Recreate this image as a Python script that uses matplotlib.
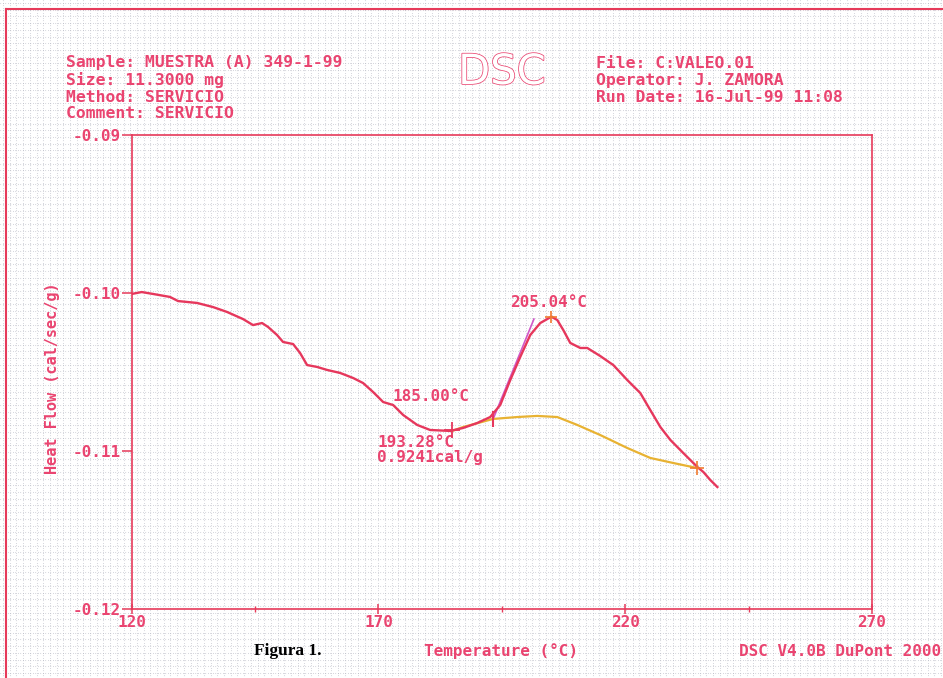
import numpy as np
import matplotlib
matplotlib.use("Agg")
import matplotlib.pyplot as plt
from matplotlib import patheffects as pe
from matplotlib.collections import LineCollection

plt.rcParams['axes.unicode_minus'] = False

# DSC trace: temperature (°C) and heat flow (cal/sec/g)
temperature = [120.00, 122.03, 124.32, 127.76, 129.39, 133.24, 136.48, 139.32,
               142.56, 144.59, 146.41, 147.63, 149.45, 150.67, 152.70, 154.12,
               155.54, 157.57, 159.59, 162.23, 164.87, 166.89, 168.92, 170.95,
               172.97, 175.00, 177.84, 180.47, 184.53, 187.17, 190.00, 192.64,
               194.67, 196.70, 198.72, 200.75, 202.78, 205.04, 206.23, 207.44,
               208.86, 210.89, 212.31, 214.94, 217.58, 220.42, 223.05, 225.08,
               227.11, 229.14, 231.77, 234.61, 235.83, 237.25, 238.67]
heat_flow = [-0.10006, -0.09994, -0.10006, -0.10025, -0.10051, -0.10063, -0.10089, -0.10120,
             -0.10165, -0.10203, -0.10190, -0.10215, -0.10266, -0.10310, -0.10323, -0.10380,
             -0.10456, -0.10468, -0.10487, -0.10506, -0.10538, -0.10570, -0.10627, -0.10690,
             -0.10709, -0.10772, -0.10835, -0.10867, -0.10873, -0.10854, -0.10823, -0.10785,
             -0.10709, -0.10551, -0.10405, -0.10266, -0.10190, -0.10150, -0.10171, -0.10234,
             -0.10316, -0.10348, -0.10348, -0.10399, -0.10456, -0.10551, -0.10633, -0.10741,
             -0.10848, -0.10930, -0.11013, -0.11101, -0.11133, -0.11184, -0.11228]

# Integration baseline under the peak
base_T = [184.93, 187.17, 193.25, 198.11, 202.17, 206.23, 210.28, 214.94,
          220.42, 225.08, 229.74, 234.61]
base_hf = [-0.10873, -0.10848, -0.10797, -0.10785, -0.10778, -0.10785, -0.10835, -0.10899,
           -0.10981, -0.11044, -0.11076, -0.11108]

# Tangent at the leading edge of the peak
tangent_T = [193.4, 201.5]
tangent_hf = [-0.10785, -0.10165]

# Analysis results
onset_T = 185.00
limit_T = 193.28
peak_T = 205.04
end_T = 234.61
enthalpy = 0.9241

x_major = [120, 170, 220, 270]
x_minor = [145, 195, 245]
y_major = [-0.09, -0.10, -0.11, -0.12]

header_left = ["Sample: MUESTRA (A) 349-1-99", "Size: 11.3000 mg",
               "Method: SERVICIO", "Comment: SERVICIO"]
header_right = ["File: C:VALEO.01", "Operator: J. ZAMORA",
                "Run Date: 16-Jul-99 11:08"]

RED = '#e6375c'
TXT = '#ea4470'
AXC = '#e63a5a'
YEL = '#e8b232'
ORG = '#f07a30'
MAG = '#d058c8'
MONO = dict(family='DejaVu Sans Mono', weight='bold', color=TXT)

W, H = 943, 678
fig = plt.figure(figsize=(W / 100, H / 100), dpi=100)
fig.patch.set_facecolor('white')

# dotted graph-paper background
bg = fig.add_axes([0, 0, 1, 1])
bg.set_xlim(0, W)
bg.set_ylim(H, 0)
bg.axis('off')
step = 6.7
xs = np.arange(3, W, step)
ys = np.arange(3, H, step)
segs = [[(x, 0), (x, H)] for x in xs] + [[(0, y), (W, y)] for y in ys]
bg.add_collection(LineCollection(segs, colors='#a4a6b4', linewidths=0.75,
                                 linestyles=[(0, (0.55, 1.85))], alpha=0.75))
# page frame
bg.plot([6, 6], [9, H], color=AXC, lw=1.5)
bg.plot([6, W], [9, 9], color=AXC, lw=1.5)

# plot area
ax = fig.add_axes([131.7 / W, 1 - 609 / H, (872 - 131.7) / W, (609 - 135) / H])
ax.patch.set_alpha(0)
ax.set_xlim(120, 270)
ax.set_ylim(-0.12, -0.09)
for s in ax.spines.values():
    s.set_color(AXC)
    s.set_linewidth(1.2)

ax.set_xticks(x_major)
ax.set_xticklabels([str(v) for v in x_major])
ax.set_xticks(x_minor, minor=True)
ax.set_yticks(y_major)
ax.set_yticklabels([f"{v:.2f}" for v in y_major])
ax.tick_params(axis='x', which='major', direction='inout', length=7, width=1.1,
               color=AXC, pad=1)
ax.tick_params(axis='x', which='minor', direction='inout', length=4, width=1.0,
               color=AXC)
ax.tick_params(axis='y', which='major', direction='out', length=7, width=1.1,
               color=AXC, pad=1)
for lab in ax.get_xticklabels() + ax.get_yticklabels():
    lab.set_fontfamily('DejaVu Sans Mono')
    lab.set_fontweight('bold')
    lab.set_fontsize(11.5)
    lab.set_color(TXT)

# trace, baseline and tangent
ax.plot(temperature, heat_flow, color=RED, lw=1.7, zorder=3)
ax.plot(base_T, base_hf, color=YEL, lw=1.6, zorder=2)
ax.plot(tangent_T, tangent_hf, color=MAG, lw=1.2, zorder=2)

onset_hf = np.interp(onset_T, temperature, heat_flow)
limit_hf = np.interp(limit_T, base_T, base_hf)
peak_hf = np.interp(peak_T, temperature, heat_flow)
end_hf = np.interp(end_T, base_T, base_hf)
ax.plot(onset_T, onset_hf, marker='+', ms=11, mew=1.3, color=RED, zorder=4)
ax.plot(limit_T, limit_hf, marker='|', ms=12, mew=1.5, color=RED, zorder=4)
ax.plot(peak_T, peak_hf, marker='+', ms=8, mew=1.2, color=ORG, zorder=4)
ax.plot(end_T, end_hf, marker='+', ms=10, mew=1.2, color=ORG, zorder=4)

ax.text(172.8, -0.10658, f"{onset_T:.2f}°C", ha='left', va='center', fontsize=11.5, **MONO)
ax.text(169.9, -0.10949, f"{limit_T:.2f}°C", ha='left', va='center', fontsize=11.5, **MONO)
ax.text(169.7, -0.11044, f"{enthalpy:.4f}cal/g", ha='left', va='center', fontsize=11.5, **MONO)
ax.text(196.7, -0.10057, f"{peak_T:.2f}°C", ha='left', va='center', fontsize=11.5, **MONO)

# header block
for i, line in enumerate(header_left):
    fig.text(66 / W, 1 - (63 + 17 * i) / H, line, ha='left', va='center',
             fontsize=11.8, **MONO)
for i, line in enumerate(header_right):
    fig.text(596 / W, 1 - (63 + 17 * i) / H, line, ha='left', va='center',
             fontsize=11.8, **MONO)
fig.text(502 / W, 1 - 72 / H, "DSC", ha='center', va='center', fontsize=30,
         family='DejaVu Sans', color='white',
         path_effects=[pe.withStroke(linewidth=1.1, foreground=TXT)])

# axis titles and footer
fig.text(53 / W, 1 - 378 / H, "Heat Flow (cal/sec/g)", rotation=90, ha='center',
         va='center', fontsize=11, **MONO)
fig.text(501 / W, 1 - 651 / H, "Temperature (°C)", ha='center', va='center',
         fontsize=11.5, **MONO)
fig.text(941 / W, 1 - 651 / H, "DSC V4.0B DuPont 2000", ha='right', va='center',
         fontsize=11.5, **MONO)
fig.text(288 / W, 1 - 651 / H, "Figura 1.", ha='center', va='center', fontsize=12.5,
         family='Liberation Serif', weight='bold', color='black')

fig.savefig("out.png", dpi=100)
